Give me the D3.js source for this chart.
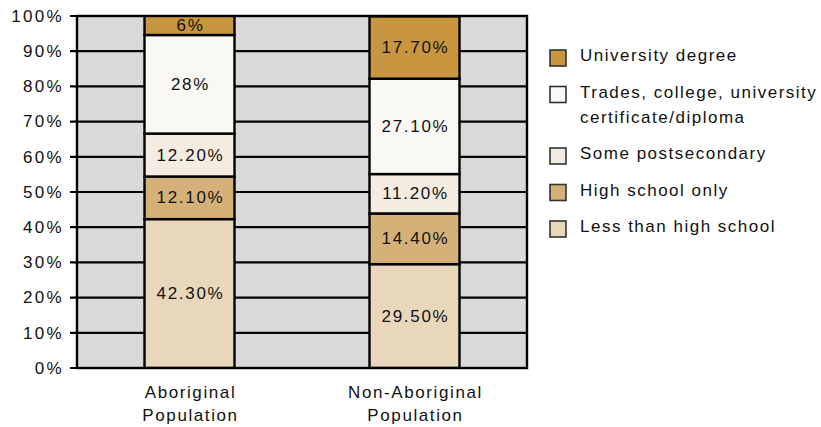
<!DOCTYPE html>
<html><head><meta charset="utf-8">
<script src="https://cdn.jsdelivr.net/npm/d3@7/dist/d3.min.js"></script>
<style>
html,body{margin:0;padding:0;background:#fff;}
text{font-family:"Liberation Sans",Arial,Helvetica,sans-serif;fill:#111;}
</style></head>
<body>
<svg id="c" width="821" height="427"></svg>
<script>
const categories = [["Aboriginal","Population"],["Non-Aboriginal","Population"]];
const seriesNames = ["Less than high school","High school only","Some postsecondary","Trades, college, university certificate/diploma","University degree"];
const legendLines = [["Less than high school"],["High school only"],["Some postsecondary"],["Trades, college, university","certificate/diploma"],["University degree"]];
const lessThanHS = [42.3, 29.5];
const highSchool = [12.1, 14.4];
const somePost = [12.2, 11.2];
const trades = [28, 27.1];
const university = [6, 17.7];
const valueLabels = [["42.30%","12.10%","12.20%","28%","6%"],["29.50%","14.40%","11.20%","27.10%","17.70%"]];
const yTicks = [0,10,20,30,40,50,60,70,80,90,100];
const colors = ["#e9d7bb","#d5b179","#f4ece0","#faf8f4","#c8963f"];

const series = [lessThanHS, highSchool, somePost, trades, university];
const svg = d3.select("#c");
const m = {left:77, right:527, top:16, bottom:368};
const x = d3.scaleBand().domain([0,1]).range([m.left, m.right]).paddingInner(0.6).paddingOuter(0.3);
const y = d3.scaleLinear().domain([0,100]).range([m.bottom, m.top]);

svg.append("rect").attr("x",m.left).attr("y",m.top).attr("width",m.right-m.left).attr("height",m.bottom-m.top).attr("fill","#d9d9d9");

svg.append("g").selectAll("line").data(yTicks).join("line")
  .attr("x1",m.left-7).attr("x2",m.right).attr("y1",d=>y(d)).attr("y2",d=>y(d))
  .attr("stroke","#000").attr("stroke-width",2.2);
svg.append("g").selectAll("text").data(yTicks).join("text")
  .attr("x",m.left-13).attr("y",d=>y(d)).attr("dy","0.34em")
  .attr("text-anchor","end").attr("font-size",17).attr("letter-spacing",2.3)
  .text(d=>d+"%");

svg.append("clipPath").attr("id","pc").append("rect")
  .attr("x",m.left).attr("y",m.top).attr("width",m.right-m.left).attr("height",m.bottom-m.top);

const stackData = categories.map((c,i)=>{
  let acc=0; return series.map((s,k)=>{const y0=acc; acc+=s[i]; return {i,k,y0,y1:acc};});
});
const gb = svg.append("g").attr("clip-path","url(#pc)");
stackData.forEach(segs=>{
  gb.selectAll(null).data(segs).join("rect")
    .attr("x",d=>x(d.i)).attr("width",x.bandwidth())
    .attr("y",d=>y(d.y1)).attr("height",d=>y(d.y0)-y(d.y1))
    .attr("fill",d=>colors[d.k]).attr("stroke","#000").attr("stroke-width",2.4);
});
stackData.forEach(segs=>{
  svg.append("g").selectAll("text").data(segs).join("text")
    .attr("x",d=>x(d.i)+x.bandwidth()/2+1)
    .attr("y",d=>(y(Math.min(d.y0,100))+y(Math.min(d.y1,100)))/2)
    .attr("dy","0.33em").attr("text-anchor","middle")
    .attr("font-size",17).attr("letter-spacing",1.7)
    .text(d=>valueLabels[d.i][d.k]);
});

svg.append("rect").attr("x",m.left).attr("y",m.top).attr("width",m.right-m.left).attr("height",m.bottom-m.top)
  .attr("fill","none").attr("stroke","#000").attr("stroke-width",2.4);

const cl = svg.append("g");
categories.forEach((c,i)=>{
  c.forEach((line,j)=>{
    cl.append("text").attr("x",x(i)+x.bandwidth()/2+1).attr("y",398+j*23)
      .attr("text-anchor","middle").attr("font-size",17).attr("letter-spacing",1.6).text(line);
  });
});

const lg = svg.append("g");
let ly = 61;
for (let k=series.length-1;k>=0;k--){
  lg.append("rect").attr("x",550).attr("y",ly-11).attr("width",16).attr("height",16)
    .attr("fill",colors[k]).attr("stroke","#333").attr("stroke-width",1.6);
  legendLines[k].forEach((t,j)=>{
    lg.append("text").attr("x",580).attr("y",ly+j*25).attr("font-size",17).attr("letter-spacing",1.5).text(t);
  });
  ly += 36.5 + (legendLines[k].length-1)*25;
}
</script>
</body></html>
